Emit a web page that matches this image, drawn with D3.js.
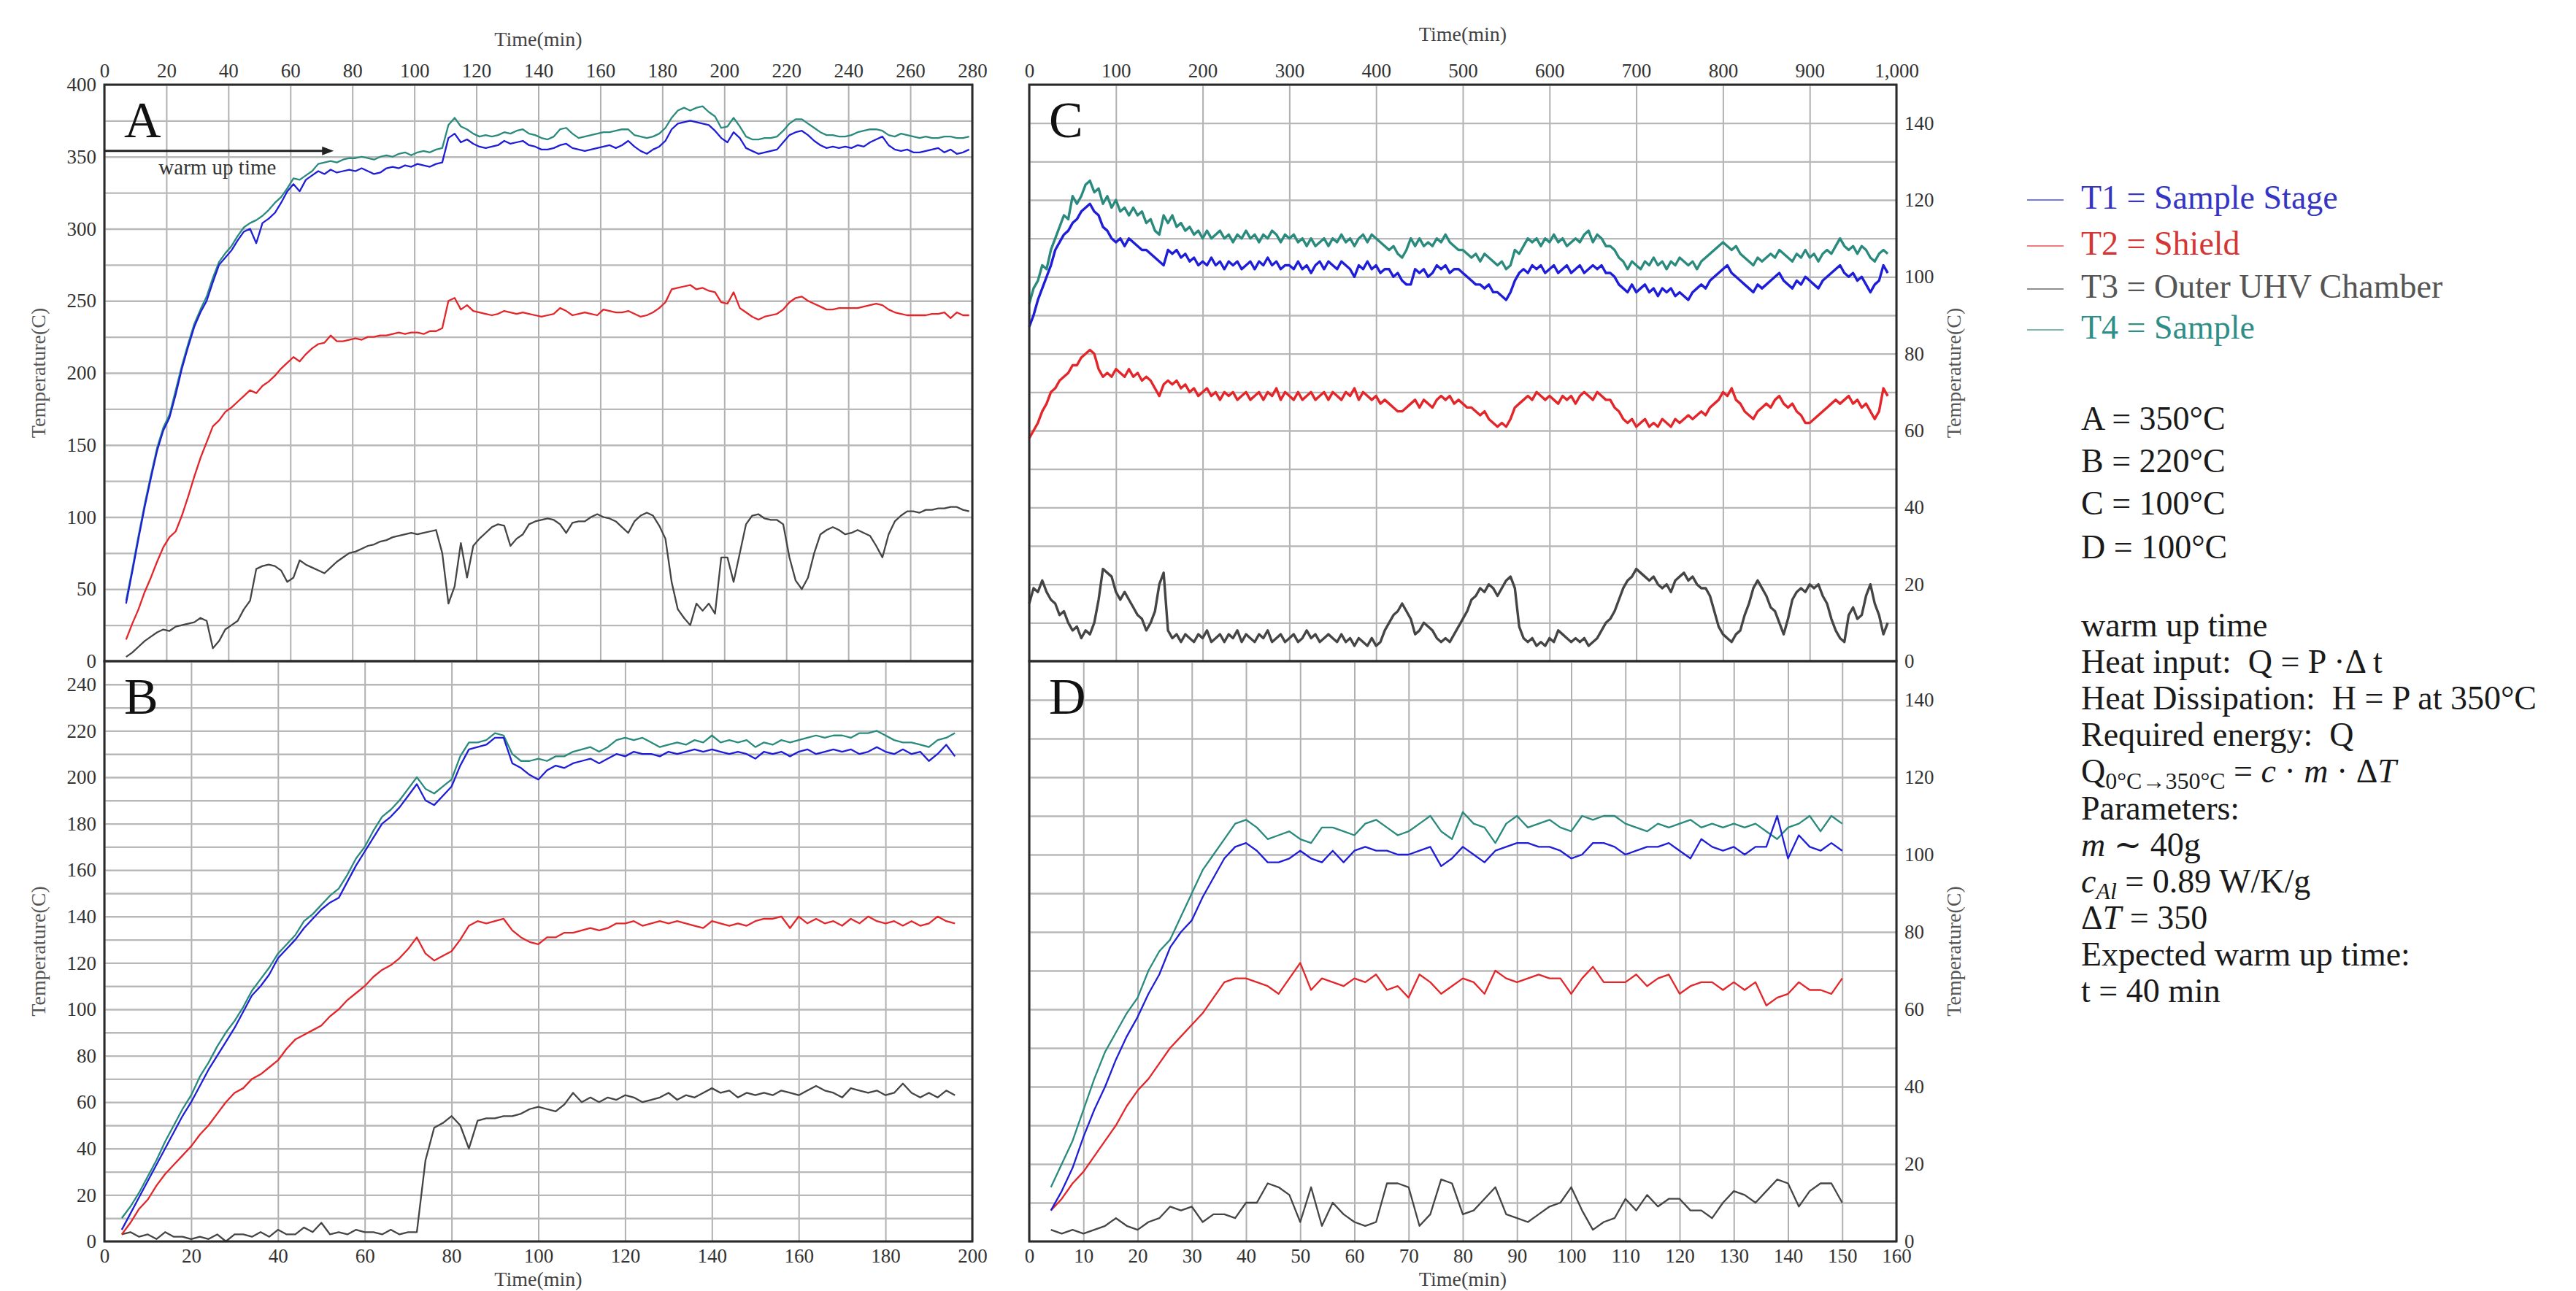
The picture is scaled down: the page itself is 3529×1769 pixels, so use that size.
<!DOCTYPE html>
<html><head><meta charset="utf-8">
<script src="https://cdn.jsdelivr.net/npm/d3@7"></script>
<style>
body{margin:0;background:#fff}
svg text{font-family:"Liberation Serif","DejaVu Serif",serif}
</style></head>
<body><svg id="c" width="3529" height="1769"></svg>
<script>
// ---------------- DATA ----------------
const seriesNames = ["T1 = Sample Stage","T2 = Shield","T3 = Outer UHV Chamber","T4 = Sample"];

// Panel A (350°C), time in min
const timeA = [7,9,11,13,15,17,19,21,23,25,27,29,31,33,35,37,39,41,43,45,47,49,51,53,55,57,59,61,63,65,67,69,71,73,75,77,79,81,83,85,87,89,91,93,95,97,99,101,103,105,107,109,111,113,115,117,119,121,123,125,127,129,131,133,135,137,139,141,143,145,147,149,151,153,155,157,159,161,163,165,167,169,171,173,175,177,179,181,183,185,187,189,191,193,195,197,199,201,203,205,207,209,211,213,215,217,219,221,223,225,227,229,231,233,235,237,239,241,243,245,247,249,251,253,255,257,259,261,263,265,267,269,271,273,275,277,279];
const A_T1 = [40,62,85,107,127,146,160,169,185,203,
218,232,242,250,263,275,280,285,292,298,
300,290,304,307,311,318,326,331,326,334,
337,340,338,341,339,340,341,340,342,340,
338,339,342,343,342,344,343,345,344,343,
345,346,363,366,360,362,359,357,356,357,
358,361,359,360,361,358,357,355,355,356,
358,359,356,355,354,355,356,357,358,356,
358,361,357,354,352,355,357,361,369,373,
374,375,374,373,372,368,363,360,367,363,
356,354,352,353,354,355,360,365,367,368,
365,361,358,356,357,356,357,356,358,357,
360,362,364,358,355,354,355,353,353,354,
355,356,353,355,352,353,355];
const A_T4 = [42,64,87,109,129,148,162,171,188,205,
220,234,244,253,266,277,283,288,295,301,
304,306,309,313,318,322,328,335,334,337,
340,345,346,347,346,348,349,349,350,349,
348,350,351,350,352,353,351,353,354,353,
355,356,372,377,371,369,366,364,365,364,
365,367,366,368,369,366,365,363,362,364,
369,370,366,363,364,365,366,367,367,368,
369,369,365,364,363,364,366,370,377,382,
384,382,384,385,381,378,370,371,377,371,
364,362,362,363,363,364,368,373,376,376,
373,370,367,365,365,364,364,365,367,368,
369,369,368,365,364,366,365,364,363,364,
363,363,364,364,363,363,364];
const A_T2 = [15,26,36,48,58,69,79,86,90,101,
114,128,141,152,163,167,173,176,180,184,
188,186,191,194,198,203,207,211,208,213,
217,220,221,226,222,222,223,224,223,225,
225,226,226,227,228,227,228,228,227,229,
229,231,250,252,244,247,243,242,241,240,
241,243,242,241,242,241,240,239,240,241,
245,243,240,241,242,241,240,244,243,242,
242,243,241,239,240,242,245,249,258,259,
260,261,258,259,257,256,249,248,256,245,
242,239,237,239,240,241,244,249,252,253,
250,248,246,244,244,245,245,245,245,246,
247,248,247,244,242,241,240,240,240,240,
241,241,242,238,242,240,240];
const A_T3 = [3,6,10,14,17,20,22,21,24,25,
26,27,30,28,9,14,22,25,28,36,
42,64,66,67,66,63,55,58,70,67,
65,63,61,65,69,72,75,76,78,80,
81,83,84,86,87,88,89,88,89,90,
91,75,40,52,82,58,80,85,89,93,
95,94,80,85,88,95,97,98,99,98,
95,89,96,97,97,100,102,100,99,97,
93,89,97,101,103,101,94,85,55,36,
30,25,40,35,40,33,72,72,55,75,
95,101,102,99,98,98,95,72,56,50,
58,75,88,91,93,91,88,89,91,89,
87,80,72,88,97,101,104,104,103,105,
105,106,106,107,107,105,104];

// Panel B (220°C)
const timeB = [4,6,8,10,12,14,16,18,20,22,24,26,28,30,32,34,36,38,40,42,44,46,48,50,52,54,56,58,60,62,64,66,68,70,72,74,76,78,80,82,84,86,88,90,92,94,96,98,100,102,104,106,108,110,112,114,116,118,120,122,124,126,128,130,132,134,136,138,140,142,144,146,148,150,152,154,156,158,160,162,164,166,168,170,172,174,176,178,180,182,184,186,188,190,192,194,196];
const B_T1 = [5,12,19,26,33,40,47,54,60,67,
74,80,86,92,99,106,110,115,122,126,
130,135,139,143,146,148,155,162,168,174,
180,183,187,192,197,190,188,192,196,205,
212,213,214,217,217,206,204,201,199,203,
205,204,206,207,208,206,208,210,209,211,
210,210,209,211,210,211,212,211,212,211,
210,211,210,208,211,210,211,209,211,212,
210,211,212,211,212,210,211,213,211,210,
212,210,211,207,210,214,209];
const B_T4 = [10,15,21,28,35,43,50,57,63,71,
77,84,90,95,101,108,113,118,124,128,
132,138,141,145,149,152,158,165,170,177,
183,186,190,195,200,195,193,196,199,209,
215,215,216,219,218,210,207,207,208,207,
209,209,211,212,213,211,213,216,217,216,
217,215,213,214,215,214,216,215,218,215,
216,215,216,213,215,214,216,215,216,217,
218,217,218,218,217,219,219,220,218,216,
215,215,214,213,216,217,219];
const B_T2 = [3,8,14,18,24,29,33,37,41,46,
50,55,60,64,66,70,72,75,78,83,
87,89,91,93,97,100,104,107,110,114,
117,119,122,126,131,124,121,123,125,130,
136,138,137,138,139,134,131,129,128,131,
131,133,133,134,135,134,135,137,137,138,
136,137,138,137,138,137,136,135,138,137,
136,137,136,138,139,139,140,135,140,137,
139,137,138,136,139,137,140,138,137,138,
136,138,136,137,140,138,137];
const B_T3 = [3,4,2,3,1,4,2,2,1,2,
1,3,0,3,3,2,4,2,5,3,
3,6,4,8,3,4,3,5,4,4,
3,5,3,4,4,35,49,51,54,50,
40,52,53,53,54,54,55,57,58,57,
56,59,64,60,62,60,62,61,63,62,
60,61,62,64,61,63,62,64,66,64,
65,62,64,63,64,63,65,64,63,65,
67,65,64,62,66,65,64,65,63,64,
68,64,62,64,62,65,63];

// Panel C (100°C, long run)
const timeC = [0,5,10,15,20,25,30,35,40,45,50,55,60,65,70,75,80,85,90,95,100,105,110,115,120,125,130,135,140,145,150,155,160,165,170,175,180,185,190,195,200,205,210,215,220,225,230,235,240,245,250,255,260,265,270,275,280,285,290,295,300,305,310,315,320,325,330,335,340,345,350,355,360,365,370,375,380,385,390,395,400,405,410,415,420,425,430,435,440,445,450,455,460,465,470,475,480,485,490,495,500,505,510,515,520,525,530,535,540,545,550,555,560,565,570,575,580,585,590,595,600,605,610,615,620,625,630,635,640,645,650,655,660,665,670,675,680,685,690,695,700,705,710,715,720,725,730,735,740,745,750,755,760,765,770,775,780,785,790,795,800,805,810,815,820,825,830,835,840,845,850,855,860,865,870,875,880,885,890,895,900,905,910,915,920,925,930,935,940,945,950,955,960,965,970,975,980,985,990];
const C_T4 = [93,97,99,103,102,107,110,113,116,115,
121,119,121,124,125,122,123,119,121,118,
120,117,118,116,118,116,117,114,115,112,
111,116,114,116,113,114,112,113,111,112,
110,112,110,111,112,110,111,109,111,110,
112,110,111,109,111,110,112,111,109,111,
110,111,109,110,108,110,108,109,110,108,
110,109,111,109,110,108,110,111,109,111,
110,109,108,107,108,106,105,107,110,108,
110,108,109,108,110,109,111,109,108,107,
107,106,105,106,104,106,105,104,103,104,
102,103,107,106,108,110,109,110,108,110,
109,111,109,110,108,109,110,109,111,112,
109,111,110,108,108,107,105,104,102,104,
103,102,104,103,105,103,104,102,104,103,
105,104,103,104,102,104,105,106,107,108,
109,108,107,108,106,105,104,103,105,104,
105,106,105,107,106,105,104,106,105,107,
105,106,104,106,107,106,108,110,108,107,
108,106,108,107,105,104,106,107,106];
const C_T1 = [87,90,94,97,100,103,107,109,111,112,
114,115,117,118,119,117,116,113,112,110,
109,110,108,110,109,108,107,107,106,105,
104,103,107,106,107,105,106,104,105,103,
104,103,105,103,104,102,104,103,104,102,
103,104,102,104,103,105,103,104,102,103,
103,102,104,102,103,101,103,104,102,104,
103,102,104,103,102,100,103,102,104,102,
103,101,102,102,100,101,99,98,98,102,
101,102,100,101,103,102,103,101,102,102,
101,100,99,98,98,97,98,96,96,95,
94,96,99,101,102,101,103,102,103,101,
102,103,101,102,103,101,102,103,101,102,
103,102,103,101,101,100,98,97,96,98,
96,97,98,96,97,95,97,96,97,95,
96,95,94,96,97,98,97,99,100,101,
102,103,101,100,99,98,97,96,98,97,
98,99,100,101,99,98,97,99,98,100,
99,98,97,99,100,101,102,103,101,100,
101,99,100,98,96,98,99,103,101];
const C_T2 = [58,60,62,65,67,70,71,73,74,75,
77,77,79,80,81,80,76,74,75,74,
76,75,74,76,74,75,73,74,73,71,
69,72,73,72,73,71,72,70,71,69,
70,71,69,70,68,70,69,70,68,69,
70,68,69,70,68,70,69,71,68,70,
69,68,70,68,69,70,68,69,70,68,
70,69,68,70,69,71,68,70,69,68,
69,67,68,67,66,65,65,66,67,68,
66,68,67,66,68,69,68,69,67,68,
67,66,66,65,64,65,63,62,61,62,
61,63,66,67,68,69,68,70,69,68,
69,68,67,69,68,69,67,69,70,69,
68,70,69,68,68,66,65,63,62,63,
61,62,63,61,62,61,63,62,61,63,
62,63,64,63,64,65,64,66,67,68,
70,69,71,68,67,65,64,63,65,66,
67,66,68,69,67,66,67,65,64,62,
62,63,64,65,66,67,68,67,68,69,
67,68,66,67,65,63,65,71,69];
const C_T3 = [15,19,18,21,18,16,15,12,13,10,
8,9,6,8,7,10,16,24,23,22,
18,16,18,16,14,12,11,8,10,13,
20,23,8,6,7,5,7,6,5,7,
6,8,5,6,7,5,7,6,8,5,
7,6,5,7,6,8,5,6,7,5,
6,7,5,6,8,6,7,5,6,7,
6,5,7,5,6,4,6,5,4,6,
4,5,8,10,12,13,15,13,11,7,
8,10,9,8,6,5,6,5,7,9,
11,13,16,17,19,18,20,19,17,19,
21,22,19,9,6,5,6,4,5,4,
6,5,8,7,6,5,6,5,6,4,
5,6,8,10,11,13,16,19,21,22,
24,23,22,21,22,20,19,20,18,21,
22,23,21,22,20,19,19,17,13,9,
7,6,5,7,8,12,15,19,21,19,
17,14,13,10,7,11,16,18,19,18,
20,19,20,17,15,11,8,6,5,12,
14,11,12,17,20,15,12,7,10];

// Panel D (100°C)
const timeD = [4,6,8,10,12,14,16,18,20,22,24,26,28,30,32,34,36,38,40,42,44,46,48,50,52,54,56,58,60,62,64,66,68,70,72,74,76,78,80,82,84,86,88,90,92,94,96,98,100,102,104,106,108,110,112,114,116,118,120,122,124,126,128,130,132,134,136,138,140,142,144,146,148,150];
const D_T4 = [14,20,26,34,42,49,54,59,63,70,
75,78,84,90,96,100,104,108,109,107,
104,105,106,104,103,107,107,106,105,108,
109,107,105,106,108,110,106,104,111,108,
107,103,108,110,107,108,109,107,106,110,
109,110,110,108,107,106,108,107,108,109,
107,108,107,108,107,108,106,104,107,108,
110,106,110,108];
const D_T1 = [8,13,19,27,34,40,47,53,58,64,
69,76,80,83,89,94,99,102,103,101,
98,98,99,101,99,98,101,98,101,102,
101,101,100,100,101,102,97,99,102,100,
98,101,102,103,103,102,102,101,99,100,
103,103,102,100,101,102,102,103,101,99,
104,102,101,102,100,102,102,110,99,105,
102,101,103,101];
const D_T2 = [8,11,15,18,22,26,30,35,39,42,
46,50,53,56,59,63,67,68,68,67,
66,64,68,72,65,68,67,66,68,67,
69,65,66,63,69,67,64,66,68,67,
64,70,68,67,68,69,68,68,64,68,
71,67,67,67,69,66,68,69,64,66,
67,67,65,67,65,67,61,63,64,67,
65,65,64,68];
const D_T3 = [3,2,3,2,3,4,6,4,3,5,
6,9,8,9,5,7,7,6,10,10,
15,14,12,5,14,4,10,7,5,4,
5,15,15,14,4,7,16,15,7,8,
11,14,7,6,5,7,9,10,14,8,
3,5,6,11,8,12,9,11,11,8,
8,6,10,13,12,10,13,16,15,9,
13,15,15,10];

// Axis ticks
const xTicksA = [0,20,40,60,80,100,120,140,160,180,200,220,240,260,280];
const yGridA = [0,25,50,75,100,125,150,175,200,225,250,275,300,325,350,375,400];
const yTicksA = [0,50,100,150,200,250,300,350,400];
const xTicksB = [0,20,40,60,80,100,120,140,160,180,200];
const yGridB = [0,10,20,30,40,50,60,70,80,90,100,110,120,130,140,150,160,170,180,190,200,210,220,230,240,250];
const yTicksB = [0,20,40,60,80,100,120,140,160,180,200,220,240];
const xTicksC = [0,100,200,300,400,500,600,700,800,900,1000];
const xTicksD = [0,10,20,30,40,50,60,70,80,90,100,110,120,130,140,150,160];
const yGridCD = [0,10,20,30,40,50,60,70,80,90,100,110,120,130,140,150];
const yTicksCD = [0,20,40,60,80,100,120,140];

const warmUp = {tEnd: 74, level: 354};
const setpoints = ["A = 350°C","B = 220°C","C = 100°C","D = 100°C"];

// ---------------- DRAW ----------------
const svg = d3.select("#c");
svg.append("rect").attr("width",3529).attr("height",1769).attr("fill","#fff");
const colors = {T1:"#1e1ed8", T2:"#e3262a", T3:"#454545", T4:"#2a8a7e"};
const FONT = '"Liberation Serif","DejaVu Serif",serif';

function drawPanel(p){
  const x = d3.scaleLinear().domain(p.xDomain).range([p.left,p.right]);
  const y = d3.scaleLinear().domain(p.yDomain).range([p.bottom,p.top]);
  const g = svg.append("g");
  const W = p.right-p.left, H = p.bottom-p.top;
  // grid
  g.append("g").attr("transform",`translate(0,${p.bottom})`)
    .call(d3.axisBottom(x).tickValues(p.xTicks).tickSize(-H).tickFormat(""))
    .call(s=>s.select(".domain").remove())
    .selectAll("line").attr("stroke","#b0b0b0").attr("stroke-width",2);
  g.append("g").attr("transform",`translate(${p.left},0)`)
    .call(d3.axisLeft(y).tickValues(p.yGrid).tickSize(-W).tickFormat(""))
    .call(s=>s.select(".domain").remove())
    .selectAll("line").attr("stroke","#b8b8b8").attr("stroke-width",2.4);
  // series
  const order = [["T3",p.T3],["T2",p.T2],["T4",p.T4],["T1",p.T1]];
  order.forEach(([k,vals])=>{
    const pts = p.t.map((t,i)=>[t,vals[i]]).filter(d=>d[1]!=null);
    g.append("path").datum(pts)
      .attr("fill","none").attr("stroke",colors[k]).attr("stroke-width",p.lw)
      .attr("stroke-linejoin","round")
      .attr("d",d3.line().x(d=>x(d[0])).y(d=>y(d[1])));
  });
  // border
  g.append("rect").attr("x",p.left).attr("y",p.top).attr("width",W).attr("height",H)
    .attr("fill","none").attr("stroke","#2a2a2a").attr("stroke-width",3);
  // tick labels
  const styleAxis = s=>{ s.select(".domain").remove();
    s.selectAll("text").attr("font-family",FONT).attr("font-size",27).attr("fill","#333"); };
  const xAx = (p.xSide==="top"?d3.axisTop(x):d3.axisBottom(x)).tickValues(p.xTicks).tickSize(0).tickPadding(10)
      .tickFormat(p.xFmt||d3.format("d"));
  g.append("g").attr("transform",`translate(0,${p.xSide==="top"?p.top:p.bottom})`).call(xAx).call(styleAxis);
  const yAx = (p.ySide==="left"?d3.axisLeft(y):d3.axisRight(y)).tickValues(p.yTicks).tickSize(0).tickPadding(11)
      .tickFormat(d3.format("d"));
  g.append("g").attr("transform",`translate(${p.ySide==="left"?p.left:p.right},0)`).call(yAx).call(styleAxis);
  // axis titles
  g.append("text").attr("x",(p.left+p.right)/2).attr("y",p.xTitleY).attr("text-anchor","middle")
    .attr("font-family",FONT).attr("font-size",28).attr("fill","#444").text("Time(min)");
  const tx = p.yTitleX, ty=(p.top+p.bottom)/2;
  g.append("text").attr("transform",`translate(${tx},${ty}) rotate(-90)`).attr("text-anchor","middle")
    .attr("font-family",FONT).attr("font-size",28).attr("fill","#555").text("Temperature(C)");
  // panel letter
  g.append("text").attr("x",p.left+27).attr("y",p.top+72).attr("font-family",FONT)
    .attr("font-size",70).attr("fill","#111").text(p.letter);
  return {x,y,g};
}

const A = drawPanel({left:143,right:1332,top:116,bottom:906,xDomain:[0,280],yDomain:[0,400],
  xTicks:xTicksA,yGrid:yGridA,yTicks:yTicksA,xSide:"top",ySide:"left",xTitleY:63,yTitleX:62,
  t:timeA,T1:A_T1,T2:A_T2,T3:A_T3,T4:A_T4,lw:2.3,letter:"A"});
drawPanel({left:143,right:1332,top:906,bottom:1701,xDomain:[0,200],yDomain:[0,250],
  xTicks:xTicksB,yGrid:yGridB,yTicks:yTicksB,xSide:"bottom",ySide:"left",xTitleY:1762,yTitleX:62,
  t:timeB,T1:B_T1,T2:B_T2,T3:B_T3,T4:B_T4,lw:2.3,letter:"B"});
drawPanel({left:1410,right:2598,top:116,bottom:906,xDomain:[0,1000],yDomain:[0,150],
  xTicks:xTicksC,yGrid:yGridCD,yTicks:yTicksCD,xSide:"top",ySide:"right",xTitleY:56,yTitleX:2686,
  xFmt:d3.format(","),t:timeC,T1:C_T1,T2:C_T2,T3:C_T3,T4:C_T4,lw:3.4,letter:"C"});
drawPanel({left:1410,right:2598,top:906,bottom:1701,xDomain:[0,160],yDomain:[0,150],
  xTicks:xTicksD,yGrid:yGridCD,yTicks:yTicksCD,xSide:"bottom",ySide:"right",xTitleY:1762,yTitleX:2686,
  t:timeD,T1:D_T1,T2:D_T2,T3:D_T3,T4:D_T4,lw:2.3,letter:"D"});

// warm-up arrow in panel A
(function(){
  const x=A.x,y=A.y,yy=y(warmUp.level),xe=x(warmUp.tEnd);
  A.g.append("line").attr("x1",x(0)).attr("x2",xe-8).attr("y1",yy).attr("y2",yy)
    .attr("stroke","#222").attr("stroke-width",3);
  A.g.append("path").attr("d",`M${xe},${yy} L${xe-16},${yy-6} L${xe-16},${yy+6} Z`).attr("fill","#222");
  A.g.append("text").attr("x",x(17.5)).attr("y",yy+32).attr("font-family",FONT).attr("font-size",29)
    .attr("fill","#333").text("warm up time");
})();

// legend
const legCols = ["#3535c4","#d43636","#555555","#2f8f88"];
const legLine = [colors.T1,colors.T2,colors.T3,colors.T4];
const legY = [286,349,408,464];
seriesNames.forEach((n,i)=>{
  svg.append("line").attr("x1",2777).attr("x2",2827).attr("y1",legY[i]-12).attr("y2",legY[i]-12)
    .attr("stroke",legLine[i]).attr("stroke-width",2).attr("opacity",0.6);
  svg.append("text").attr("x",2851).attr("y",legY[i]).attr("font-family",FONT).attr("font-size",46)
    .attr("fill",legCols[i]).style("white-space","pre").text(n);
});
const spY = [589,647,705,765];
setpoints.forEach((s,i)=>{
  svg.append("text").attr("x",2851).attr("y",spY[i]).attr("font-family",FONT).attr("font-size",46)
    .attr("fill","#1a1a1a").style("white-space","pre").text(s);
});

// explanatory block
const tb = svg.append("g").attr("font-family",FONT).attr("font-size",46).attr("fill","#1a1a1a");
const by = i=>872+i*50.1;
function ln(i){ return tb.append("text").attr("x",2851).attr("y",by(i)).style("white-space","pre"); }
ln(0).text("warm up time");
ln(1).text("Heat input:  Q = P ·Δ t");
ln(2).text("Heat Dissipation:  H = P at 350°C");
ln(3).text("Required energy:  Q");
(function(){ const t=ln(4);
  t.append("tspan").text("Q");
  t.append("tspan").attr("font-size",32).attr("dy",9).text("0°C→350°C");
  t.append("tspan").attr("dy",-9).text(" = ");
  t.append("tspan").attr("font-style","italic").text("c");
  t.append("tspan").text(" · ");
  t.append("tspan").attr("font-style","italic").text("m");
  t.append("tspan").text(" · Δ");
  t.append("tspan").attr("font-style","italic").text("T");
})();
ln(5).text("Parameters:");
(function(){ const t=ln(6);
  t.append("tspan").attr("font-style","italic").text("m");
  t.append("tspan").text(" ∼ 40g");
})();
(function(){ const t=ln(7);
  t.append("tspan").attr("font-style","italic").text("c");
  t.append("tspan").attr("font-style","italic").attr("font-size",32).attr("dy",9).text("Al");
  t.append("tspan").attr("dy",-9).text(" = 0.89 W/K/g");
})();
(function(){ const t=ln(8);
  t.append("tspan").text("Δ");
  t.append("tspan").attr("font-style","italic").text("T");
  t.append("tspan").text(" = 350");
})();
ln(9).text("Expected warm up time:");
ln(10).text("t = 40 min");
</script>
</body></html>
